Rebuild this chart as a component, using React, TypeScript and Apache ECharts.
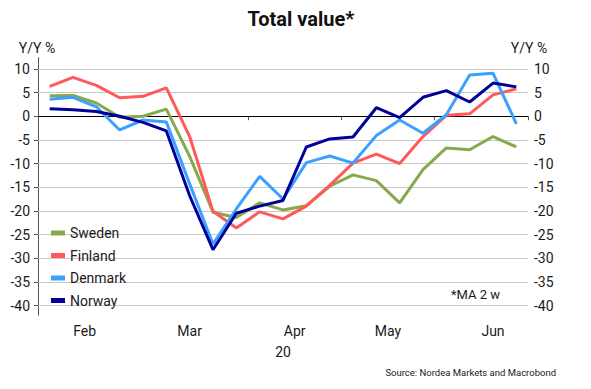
import React, { useEffect, useRef } from "react";
import * as echarts from "echarts";

const weeks = [
  "2020-02-03", "2020-02-10", "2020-02-17", "2020-02-24",
  "2020-03-02", "2020-03-09", "2020-03-16", "2020-03-23", "2020-03-30",
  "2020-04-06", "2020-04-13", "2020-04-20", "2020-04-27",
  "2020-05-04", "2020-05-11", "2020-05-18", "2020-05-25",
  "2020-06-01", "2020-06-08", "2020-06-15", "2020-06-22",
];

const sweden = [4.3, 4.4, 2.8, -0.2, 0.0, 1.5, -8.5, -20.3, -21.4, -18.3, -19.8, -18.9, -14.8, -12.4, -13.6, -18.3, -11.3, -6.7, -7.1, -4.3, -6.5];
const finland = [6.3, 8.2, 6.5, 3.9, 4.2, 6.0, -4.3, -20.1, -23.6, -20.2, -21.7, -19.0, -14.6, -9.9, -8.0, -10.0, -4.3, 0.2, 0.5, 4.5, 5.8];
const denmark = [3.6, 4.0, 2.0, -2.9, -0.8, -1.2, -14.3, -27.0, -19.6, -12.7, -17.5, -9.8, -8.4, -9.9, -4.1, -0.8, -3.6, 0.3, 8.7, 9.1, -1.6];
const norway = [1.6, 1.35, 1.0, 0.0, -1.3, -3.1, -16.8, -28.2, -20.5, -19.0, -17.8, -6.5, -4.8, -4.4, 1.8, -0.3, 4.0, 5.4, 3.0, 7.0, 6.2];

const yTicks = [-40, -35, -30, -25, -20, -15, -10, -5, 0, 5, 10];
const monthStartIdx = [0, 4, 9, 13, 17];
const monthLabelPos = [2, 6.5, 11, 15, 19.5];
const monthLabels = ["Feb", "Mar", "Apr", "May", "Jun"];
const yearLabelPos = [10.5];
const yearLabels = ["20"];
const axisUnit = "Y/Y %";

const seriesNames = ["Sweden", "Finland", "Denmark", "Norway"];
const seriesData = [sweden, finland, denmark, norway];
const seriesColors = ["#87a94c", "#ff5a5a", "#3ba0ff", "#00009a"];

export default function App() {
  const ref = useRef<HTMLDivElement>(null);
  useEffect(() => {
    if (!ref.current) return;
    const chart = echarts.init(ref.current, null, { renderer: "svg" });
    const font = "Roboto";
    const labelColor = "#1a1a1a";
    const yAxisBase = {
      type: "value",
      min: -42,
      max: 12.3,
      splitLine: { show: false },
      axisLine: { show: true, lineStyle: { color: "#555", width: 1 } },
      axisTick: { show: true, length: 4, inside: false, customValues: yTicks, lineStyle: { color: "#555" } },
      axisLabel: { customValues: yTicks, fontSize: 14, color: labelColor, fontFamily: font },
    };
    const gridLines = yTicks
      .filter((v) => v !== 0)
      .map((v) => ({ yAxis: v, lineStyle: { color: "#c8c8c8", width: 1, type: "solid" } }));
    gridLines.push({ yAxis: 0, lineStyle: { color: "#000", width: 1, type: "solid" } });

    const option: any = {
      animation: false,
      backgroundColor: "#fff",
      textStyle: { fontFamily: font },
      title: {
        text: "Total value*",
        left: 296,
        top: 4,
        textAlign: "center",
        textStyle: { fontSize: 20, fontWeight: "bold", color: "#111", fontFamily: font },
      },
      grid: { left: 38, right: 63, top: 58, bottom: 74, containLabel: false },
      legend: {
        orient: "vertical",
        left: 46,
        top: 220,
        icon: "rect",
        itemWidth: 14,
        itemHeight: 5,
        itemGap: 6.5,
        data: seriesNames,
        textStyle: { fontSize: 14, color: labelColor, lineHeight: 16, fontFamily: font },
      },
      xAxis: [
        {
          type: "category",
          data: weeks,
          boundaryGap: true,
          position: "bottom",
          axisLine: { show: true, lineStyle: { color: "#333", width: 1 } },
          axisTick: {
            show: true,
            length: 4,
            interval: (index: number) => monthStartIdx.includes(index),
            lineStyle: { color: "#555" },
          },
          axisLabel: { show: false },
          splitLine: { show: false },
        },
        {
          type: "value",
          min: 0,
          max: weeks.length,
          position: "bottom",
          offset: 0,
          axisLine: { show: false },
          axisTick: { show: false },
          splitLine: { show: false },
          axisLabel: {
            customValues: monthLabelPos,
            margin: 9,
            fontSize: 14,
            color: labelColor,
            fontFamily: font,
            formatter: (v: number) => monthLabels[monthLabelPos.indexOf(v)] ?? "",
          },
        },
        {
          type: "value",
          min: 0,
          max: weeks.length,
          position: "bottom",
          offset: 21,
          axisLine: { show: false },
          axisTick: { show: false },
          splitLine: { show: false },
          axisLabel: {
            customValues: yearLabelPos,
            margin: 9,
            fontSize: 14,
            color: labelColor,
            fontFamily: font,
            formatter: (v: number) => yearLabels[yearLabelPos.indexOf(v)] ?? "",
          },
        },
      ],
      yAxis: [
        { ...yAxisBase, position: "left", axisLabel: { ...yAxisBase.axisLabel, margin: 8 } },
        { ...yAxisBase, position: "right", axisLabel: { ...yAxisBase.axisLabel, margin: 6 } },
      ],
      series: seriesNames.map((name, i) => ({
        name,
        type: "line",
        data: seriesData[i],
        xAxisIndex: 0,
        yAxisIndex: 0,
        symbol: "none",
        color: seriesColors[i],
        lineStyle: { width: 3, color: seriesColors[i] },
        z: 2 + i,
        ...(i === 0
          ? {
              markLine: {
                silent: true,
                z: 1,
                symbol: ["none", "none"],
                label: { show: false },
                emphasis: { disabled: true },
                data: gridLines,
              },
            }
          : {}),
      })),
      graphic: [
        {
          type: "text",
          x: 37,
          y: 48,
          style: { text: axisUnit, fontSize: 14, fill: labelColor, fontFamily: font, fontWeight: "normal", align: "center", verticalAlign: "middle" },
        },
        {
          type: "text",
          x: 529,
          y: 48,
          style: { text: axisUnit, fontSize: 14, fill: labelColor, fontFamily: font, fontWeight: "normal", align: "center", verticalAlign: "middle" },
        },
        {
          type: "text",
          left: 451,
          top: 288,
          style: { text: "*MA 2 w", fontSize: 13, fill: labelColor, fontFamily: font },
        },
        {
          type: "text",
          right: 35,
          top: 367,
          style: { text: "Source: Nordea Markets and Macrobond", fontSize: 9.5, fill: labelColor, fontFamily: font },
        },
      ],
    };
    chart.setOption(option);
    return () => chart.dispose();
  }, []);
  return (
    <div
      ref={ref}
      style={{ position: "absolute", left: 0, top: 0, width: 591, height: 389, background: "#fff" }}
    />
  );
}
